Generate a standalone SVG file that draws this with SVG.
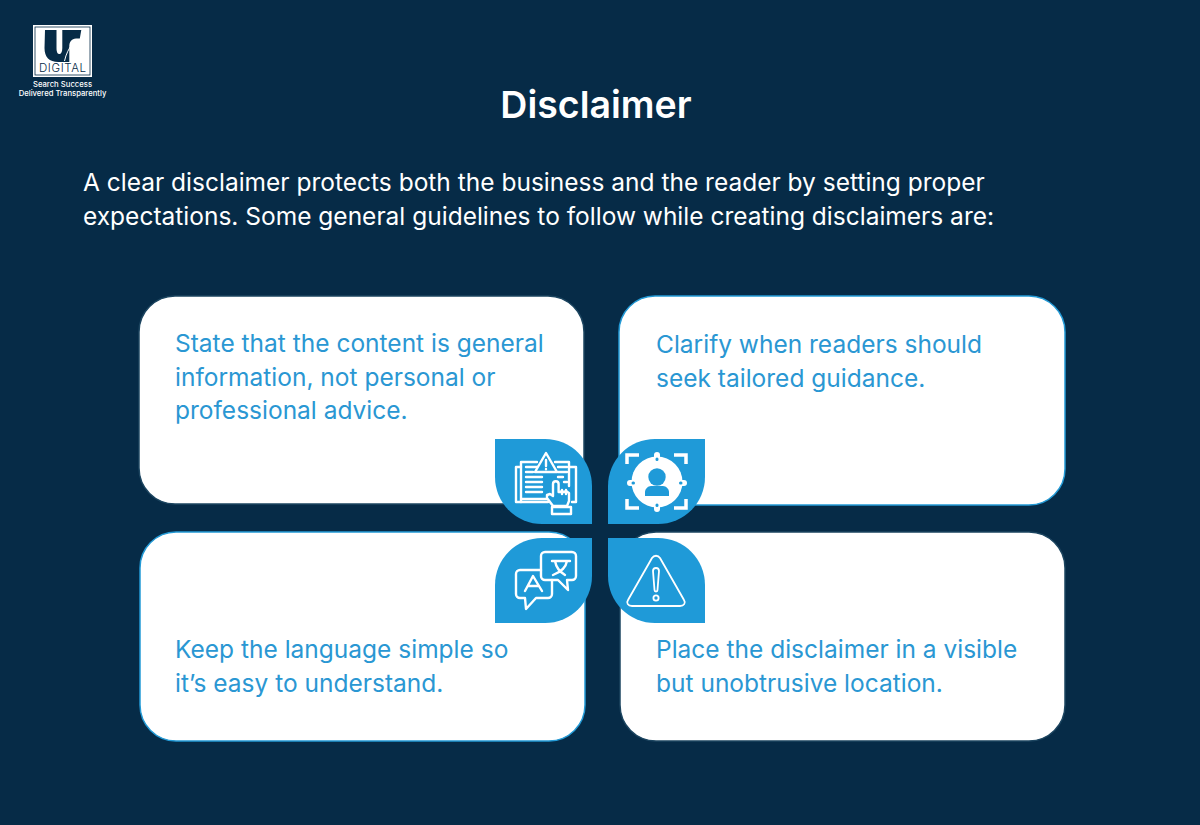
<svg xmlns="http://www.w3.org/2000/svg" width="1200" height="825" viewBox="0 0 1200 825">
<style>
text{font-family:Inter,"Liberation Sans",sans-serif}
.t{fill:#2a97d3;font-size:24.500px}
.b{fill:#fff;font-size:24.500px}
.c{fill:#fff;stroke-width:1.500}
.i{fill:none;stroke:#fff;stroke-width:2.400;stroke-linejoin:round;stroke-linecap:round}
.s{fill:#1f9ad8}
</style>
<rect width="1200" height="825" fill="#062b47"/>
<g id="logo">
<rect x="33" y="25" width="59" height="52" fill="#fff"/>
<rect x="35" y="27" width="55" height="48" fill="none" stroke="#062b47" stroke-width=".8"/>
<path d="M45 30h11.500v18c0 5 1.500 6 3 6s2.800-2 2.800-6v-18h19l-1.500 8.500c-6-.5-10 1-10.500 7v16.500h-11c-9 0-13.800-5-13.800-14z" fill="#062b47"/>
<path d="M73 43c-4 5-7 11-8.500 18" fill="none" stroke="#fff" stroke-width="1"/>
<text x="39" y="72" font-size="11.500" font-weight="300" fill="#062b47" textLength="47">DIGITAL</text>
<text x="62.500" y="87" text-anchor="middle" font-size="7.700" font-weight="500" fill="#fff">Search Success</text>
<text x="62.500" y="96" text-anchor="middle" font-size="7.700" font-weight="500" fill="#fff">Delivered Transparently</text>
</g>
<g id="title"><text x="596" y="118" text-anchor="middle" font-size="37.500" font-weight="600" fill="#fff">Disclaimer</text></g>
<g id="intro">
<text class="b" x="83" y="191">A clear disclaimer protects both the business and the reader by setting proper</text>
<text class="b" x="83" y="225">expectations. Some general guidelines to follow while creating disclaimers are:</text>
</g>
<g id="card-1">
<rect class="c" x="139" y="296" width="445" height="208" rx="36" stroke="#1c4560"/>
<text class="t" x="175" y="352">State that the content is general</text>
<text class="t" x="175" y="386">information, not personal or</text>
<text class="t" x="175" y="419">professional advice.</text>
</g>
<g id="card-2">
<rect class="c" x="619" y="296" width="446" height="209" rx="36" stroke="#239ad6"/>
<text class="t" x="656" y="353">Clarify when readers should</text>
<text class="t" x="656" y="387">seek tailored guidance.</text>
</g>
<g id="card-3">
<rect class="c" x="140" y="532" width="445" height="209" rx="36" stroke="#239ad6"/>
<text class="t" x="175" y="658">Keep the language simple so</text>
<text class="t" x="175" y="692">it’s easy to understand.</text>
</g>
<g id="card-4">
<rect class="c" x="620" y="532" width="445" height="209" rx="36" stroke="#1c4560"/>
<text class="t" x="656" y="658">Place the disclaimer in a visible</text>
<text class="t" x="656" y="692">but unobtrusive location.</text>
</g>
<g id="icon-1">
<path class="s" d="M495 439h50a47 47 0 0 1 47 47v38h-50a47 47 0 0 1-47-47z"/>
<path class="i" d="M521 467h-5v35h32M570 467h6v35h-4"/>
<path class="i" d="M537 462h-16v37h27M555 462h14v24M521 499v3"/>
<path class="i" d="M526 467h15M526 472h7M526 477h16M526 482h16M526 487h16M526 492h16M558 467h9M558 472h9M558 477h5M564 482h3"/>
<path d="M546 453l11 19h-22z" fill="#1f9ad8" stroke="#fff" stroke-width="2.400" stroke-linejoin="round"/>
<path class="i" d="M546 460v6M546 469v.3"/>
<path d="M553 506l-6-8v-3l3-1 3 2v-12a2.800 2.800 0 0 1 5.600 0v8h1.800a2 2 0 0 1 3 0h1a2 2 0 0 1 3 0l1.600 1v8l-2 5z" fill="#1f9ad8" stroke="#fff" stroke-width="2.400" stroke-linejoin="round"/>
<path class="i" d="M552 507h19v7h-19zM562 490v4M566 490v4"/>
</g>
<g id="icon-2">
<path class="s" d="M655 439h50v38a47 47 0 0 1-47 47h-50v-38a47 47 0 0 1 47-47z"/>
<path d="M627 464v-9h12M686 464v-9h-12M627 499v9h12M686 499v9h-12" fill="none" stroke="#fff" stroke-width="3.500"/>
<circle cx="657" cy="482" r="25.500" fill="#fff"/>
<path d="M657 455v3M657 506v3M630 483h3M681 483h3" stroke="#fff" stroke-width="6" stroke-linecap="round"/>
<path d="M657 459v.5M657 505v.5M633 483h.5M680.500 483h.5" stroke="#1f9ad8" stroke-width="3" stroke-linecap="round"/>
<circle cx="657" cy="477" r="8.700" class="s"/>
<path class="s" d="M645 496v-4c0-3 3-6 6-6h12c3 0 6 3 6 6v4z"/>
</g>
<g id="icon-3">
<path class="s" d="M542 538h50v38a47 47 0 0 1-47 47h-50v-38a47 47 0 0 1 47-47z"/>
<path class="i" d="M541 570h-21a4 4 0 0 0-4 4v20a4 4 0 0 0 4 4h5l1 11 10-11h12a4 4 0 0 0 4-4v-14"/>
<path class="i" d="M545 552h27a4 4 0 0 1 4 4v20a4 4 0 0 1-4 4h-5l1 10-10-10h-13a4 4 0 0 1-4-4v-20a4 4 0 0 1 4-4z"/>
<path class="i" d="M552 561h18M555 561c1 6 5 11 10 14M567 561c-1 6-6 11-14 14M525 591l8-15 9 15M528 586h11"/>
</g>
<g id="icon-4">
<path class="s" d="M608 538h50a47 47 0 0 1 47 47v38h-50a47 47 0 0 1-47-47z"/>
<path d="M652 558c2-3 6-3 8 0l24 42c2 3 0 6-4 6h-48c-4 0-6-3-4-6z" fill="none" stroke="#fff" stroke-width="1.800" stroke-linejoin="round"/>
<path d="M653 571a3 3 0 0 1 6 0l-1.500 19a1.500 1.500 0 0 1-3 0z" fill="none" stroke="#fff" stroke-width="1.800"/>
<circle cx="656" cy="598" r="2.600" fill="none" stroke="#fff" stroke-width="1.800"/>
</g>
</svg>
